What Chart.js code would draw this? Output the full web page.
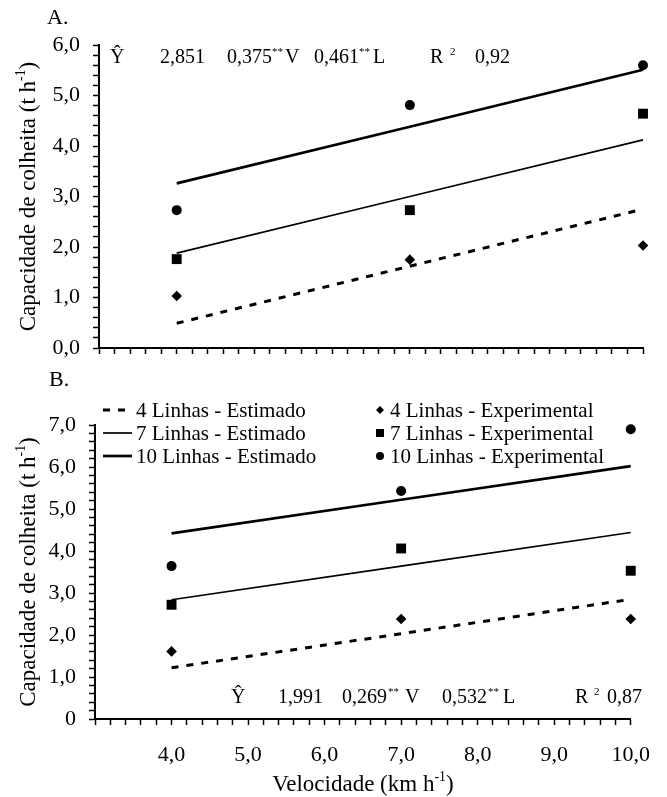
<!DOCTYPE html>
<html>
<head>
<meta charset="utf-8">
<script src="https://cdn.jsdelivr.net/npm/chart.js@4.4.1/dist/chart.umd.min.js"></script>
<style>
  html, body { margin: 0; padding: 0; background: #fff; }
  #wrap { position: relative; width: 667px; height: 797px; }
  canvas { position: absolute; left: 0; top: 0; }
</style>
</head>
<body>
<div id="wrap">
  <canvas id="chartA" width="667" height="797"></canvas>
  <canvas id="chartB" width="667" height="797"></canvas>
</div>
<script>
// velocidades (km/h)
const velocidade = [4, 7, 10];

// Painel A
const estA4 = [0.49, 1.62, 2.75];
const estA7 = [1.88, 3.00, 4.12];
const estA10 = [3.26, 4.38, 5.51];
const expA4 = [1.03, 1.75, 2.03];
const expA7 = [1.76, 2.73, 4.64];
const expA10 = [2.73, 4.81, 5.60];

// Painel B
const estB4 = [1.22, 2.03, 2.85];
const estB7 = [2.84, 3.64, 4.44];
const estB10 = [4.42, 5.22, 6.02];
const expB4 = [1.61, 2.38, 2.38];
const expB7 = [2.72, 4.06, 3.53];
const expB10 = [3.64, 5.43, 6.90];

const labelsEst = ['4 Linhas - Estimado', '7 Linhas - Estimado', '10 Linhas - Estimado'];
const labelsExp = ['4 Linhas - Experimental', '7 Linhas - Experimental', '10 Linhas - Experimental'];

// equações (texto, sobrescrito)
const eqA = [['Ŷ'], ['2,851'], ['0,375'], ['**', 1], ['V'], ['0,461'], ['**', 1], ['L'], ['R'], ['2', 1], ['0,92']];
const eqB = [['Ŷ'], ['1,991'], ['0,269'], ['**', 1], ['V'], ['0,532'], ['**', 1], ['L'], ['R'], ['2', 1], ['0,87']];

const FONT = "'Liberation Serif', 'Times New Roman', serif";
const BLACK = '#000';

const pts = arr => velocidade.map((v, i) => ({ x: v, y: arr[i] }));
const isMajor = v => Math.abs(v - Math.round(v)) < 1e-6;
const fmt = v => v.toFixed(1).replace('.', ',');

function makeDatasets(e4, e7, e10, x4, x7, x10) {
    const line = (label, data, w, dash) => ({
        label, data: pts(data), showLine: true, borderColor: BLACK, borderWidth: w,
        borderDash: dash, pointRadius: 0, fill: false, clip: false
    });
    const dots = (label, data, style, r) => ({
        label, data: pts(data), showLine: false, pointStyle: style, pointRadius: r,
        backgroundColor: BLACK, borderColor: BLACK, borderWidth: 0, clip: false
    });
    return [
        line(labelsEst[0], e4, 3, [7, 8]),
        line(labelsEst[1], e7, 1.7, []),
        line(labelsEst[2], e10, 2.7, []),
        dots(labelsExp[0], x4, 'rectRot', 5.3),
        dots(labelsExp[1], x7, 'rect', 7),
        dots(labelsExp[2], x10, 'circle', 5)
    ];
}

function makeScales(yMax, xLabels, zeroLabel, xHeight, xPad) {
    const tickGrid = { drawOnChartArea: false, drawTicks: true, tickLength: 6, tickColor: BLACK, tickWidth: 1.5 };
    return {
        x: {
            type: 'linear', min: 3, max: 10,
            border: { color: BLACK, width: 2 },
            grid: tickGrid,
            ticks: {
                stepSize: 0.2, autoSkip: false, maxRotation: 0, color: BLACK, padding: xPad,
                font: { family: FONT, size: 22 },
                callback: v => (xLabels && isMajor(v) && v >= 4) ? fmt(v) : ''
            },
            afterFit: s => { s.height = xHeight; }
        },
        y: {
            type: 'linear', min: 0, max: yMax,
            border: { color: BLACK, width: 2 },
            grid: tickGrid,
            ticks: {
                stepSize: 0.2, autoSkip: false, color: BLACK, padding: 13,
                font: { family: FONT, size: 22 },
                callback: v => isMajor(v) ? (Math.abs(v) < 1e-6 ? zeroLabel : fmt(v)) : ''
            },
            afterFit: s => { s.width = 60; }
        }
    };
}

// texto com sobrescritos
function runsWidth(ctx, runs, size) {
    let w = 0;
    runs.forEach(([t, sup]) => {
        ctx.font = (sup ? size * 0.6 : size) + 'px ' + FONT;
        w += ctx.measureText(t).width;
    });
    return w;
}
function drawRuns(ctx, runs, x, y, size) {
    let cx = x;
    runs.forEach(([t, sup]) => {
        ctx.font = (sup ? size * 0.6 : size) + 'px ' + FONT;
        ctx.fillText(t, cx, sup ? y - size * 0.42 : y);
        cx += ctx.measureText(t).width;
    });
}
function drawYTitle(ctx, cx, cy) {
    const runs = [['Capacidade de colheita (t h'], ['-1', 1], [')']];
    ctx.save();
    ctx.translate(cx, cy);
    ctx.rotate(-Math.PI / 2);
    const w = runsWidth(ctx, runs, 23);
    drawRuns(ctx, runs, -w / 2, 7, 23);
    ctx.restore();
}
function drawEquation(ctx, eq, xs, y) {
    eq.forEach(([t, sup], i) => {
        ctx.font = (sup ? 11 : 20) + 'px ' + FONT;
        ctx.fillText(t, xs[i], sup ? y - 8 : y);
    });
}

const decoA = {
    id: 'decoA',
    afterDraw(chart) {
        const ctx = chart.ctx;
        ctx.save();
        ctx.fillStyle = BLACK;
        ctx.textBaseline = 'alphabetic';
        ctx.textAlign = 'left';
        ctx.font = '22px ' + FONT;
        ctx.fillText('A.', 47, 24);
        drawEquation(ctx, eqA, [110, 160, 227, 272, 285, 314, 359, 373, 430, 450, 475], 63);
        drawYTitle(ctx, 28, (chart.chartArea.top + chart.chartArea.bottom) / 2);
        ctx.restore();
    }
};

const decoB = {
    id: 'decoB',
    afterDraw(chart) {
        const ctx = chart.ctx;
        ctx.save();
        ctx.fillStyle = BLACK;
        ctx.strokeStyle = BLACK;
        ctx.textBaseline = 'alphabetic';
        ctx.textAlign = 'left';
        ctx.font = '22px ' + FONT;
        ctx.fillText('B.', 49, 386);
        drawEquation(ctx, eqB, [231, 278, 342, 388, 405, 442, 488, 503, 575, 594, 607], 703);
        drawYTitle(ctx, 28, (chart.chartArea.top + chart.chartArea.bottom) / 2);

        // título do eixo x
        const xr = [['Velocidade (km h'], ['-1', 1], [')']];
        const xw = runsWidth(ctx, xr, 23);
        drawRuns(ctx, xr, (chart.chartArea.left + chart.chartArea.right) / 2 - xw / 2, 791, 23);

        // legenda
        const rows = [410, 433, 456];
        const ds = chart.data.datasets;
        ctx.textBaseline = 'middle';
        ctx.font = '21px ' + FONT;
        for (let i = 0; i < 3; i++) {
            const d = ds[i];
            ctx.lineWidth = d.borderWidth;
            ctx.setLineDash(d.borderDash || []);
            ctx.beginPath();
            ctx.moveTo(103, rows[i]);
            ctx.lineTo(132, rows[i]);
            ctx.stroke();
            ctx.setLineDash([]);
            ctx.fillText(d.label, 136, rows[i] + 1);

            const m = ds[i + 3];
            const mx = 380, my = rows[i], r = 4;
            ctx.beginPath();
            if (m.pointStyle === 'circle') ctx.arc(mx, my, r, 0, Math.PI * 2);
            else if (m.pointStyle === 'rect') ctx.rect(mx - r, my - r, 2 * r, 2 * r);
            else { ctx.moveTo(mx - r, my); ctx.lineTo(mx, my - r); ctx.lineTo(mx + r, my); ctx.lineTo(mx, my + r); ctx.closePath(); }
            ctx.fill();
            ctx.fillText(m.label, 390, rows[i] + 1);
        }
        ctx.restore();
    }
};

const baseOptions = (scales, padding) => ({
    responsive: false,
    animation: false,
    events: [],
    layout: { padding },
    plugins: { legend: { display: false }, tooltip: { enabled: false }, title: { display: false } },
    scales
});

new Chart(document.getElementById('chartA'), {
    type: 'scatter',
    data: { datasets: makeDatasets(estA4, estA7, estA10, expA4, expA7, expA10) },
    options: baseOptions(makeScales(6, false, '0,0', 8, 0), { left: 39, right: 24, top: 45, bottom: 797 - 348 - 8 }),
    plugins: [decoA]
});

new Chart(document.getElementById('chartB'), {
    type: 'scatter',
    data: { datasets: makeDatasets(estB4, estB7, estB10, expB4, expB7, expB10) },
    options: baseOptions(makeScales(7, true, '0', 50, 17), { left: 35, right: 24, top: 425, bottom: 797 - 719 - 50 }),
    plugins: [decoB]
});
</script>
</body>
</html>
